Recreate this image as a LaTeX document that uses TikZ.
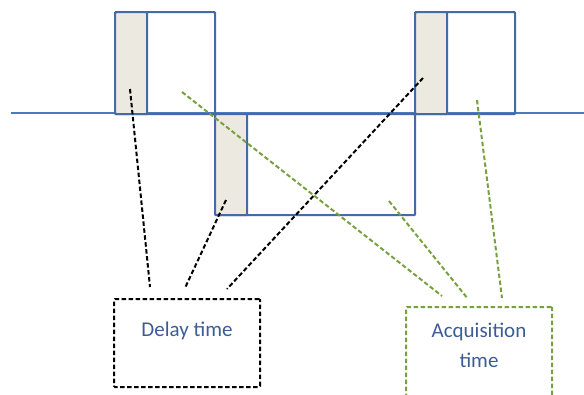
\documentclass[tikz,border=0pt]{standalone}
\usepackage{fontspec}
\setmainfont{Carlito}
\definecolor{axisblue}{HTML}{4A7BBE}
\definecolor{boxblue}{HTML}{456BA2}
\definecolor{shadefill}{HTML}{ECEAE0}
\definecolor{greenline}{HTML}{77A03E}
\definecolor{textblue}{HTML}{3D5C97}
\begin{document}
\begin{tikzpicture}[x=1pt,y=-1pt,
  axisline/.style={draw=axisblue,line width=2pt},
  pulsebox/.style={draw=boxblue,line width=2.2pt,rectangle,inner sep=0pt,anchor=north west,rounded corners=1pt},
  shadebox/.style={pulsebox,fill=shadefill},
  blackdash/.style={draw=black,line width=2pt,dash pattern=on 4.5pt off 2.5pt},
  greendash/.style={draw=greenline,line width=2pt,dash pattern=on 4.5pt off 2.5pt},
  labelbox/.style={rectangle,inner sep=0pt,line width=2pt,dash pattern=on 4.5pt off 2.5pt,rounded corners=1pt},
  labeltext/.style={text=textblue,font=\fontsize{21}{30}\selectfont,align=center,inner sep=0pt}]
\useasboundingbox (0,0) rectangle (584,394);
\clip (0,0) rectangle (584,394);
% baseline
\coordinate (axl) at (11,112.5);
\coordinate (axr) at (590,112.5);
\draw[axisline] (axl) -- (axr);
% pulses
\node[pulsebox,minimum width=100pt,minimum height=102pt] (p1) at (114,11) {};
\node[shadebox,minimum width=32pt,minimum height=102pt] (s1) at (114,11) {};
\node[pulsebox,minimum width=200pt,minimum height=101pt] (p2) at (214,113) {};
\node[shadebox,minimum width=32pt,minimum height=101pt] (s2) at (214,113) {};
\node[pulsebox,minimum width=100pt,minimum height=102pt] (p3) at (414,11) {};
\node[shadebox,minimum width=32pt,minimum height=102pt] (s3) at (414,11) {};
% label boxes
\node[labelbox,draw=black,minimum width=146pt,minimum height=88pt] (delay) at (187,343) {};
\node[labeltext] (delaytext) at (187,331) {Delay time};
\node[labelbox,draw=greenline,minimum width=146pt,minimum height=120pt] (acq) at (479,367) {};
\node[labeltext] (acqtext) at (479,345) {Acquisition\\time};
% connector endpoints
\coordinate (b1s) at (130,89);
\coordinate (b1e) at (150,287);
\coordinate (b2s) at (226,200);
\coordinate (b2e) at (185,288);
\coordinate (b3s) at (423,78);
\coordinate (b3e) at (227,289);
\coordinate (g1s) at (182,92);
\coordinate (g1e) at (442,296);
\coordinate (g2s) at (389,201);
\coordinate (g2e) at (468,299);
\coordinate (g3s) at (477,100);
\coordinate (g3e) at (502,298);
\draw[blackdash] (b1s) -- (b1e);
\draw[blackdash] (b2s) -- (b2e);
\draw[blackdash] (b3s) -- (b3e);
\draw[greendash] (g1s) -- (g1e);
\draw[greendash] (g2s) -- (g2e);
\draw[greendash] (g3s) -- (g3e);
\end{tikzpicture}
\end{document}
